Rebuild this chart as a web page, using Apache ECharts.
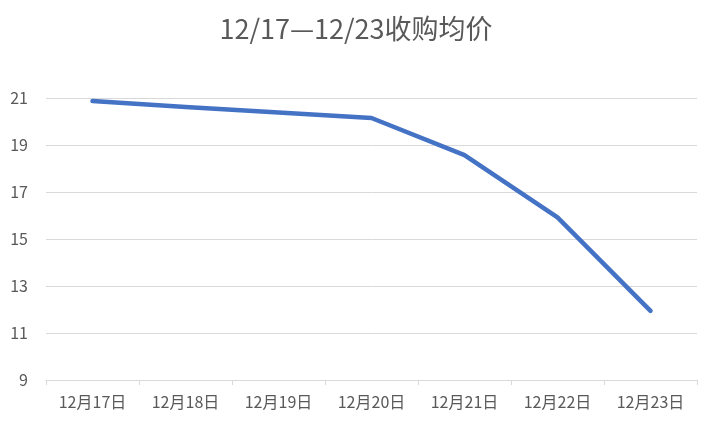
<!DOCTYPE html>
<html><head><meta charset="utf-8">
<script src="https://cdn.jsdelivr.net/npm/echarts@6/dist/echarts.min.js"></script>
<style>html,body{margin:0;padding:0;background:#fff}#c{width:712px;height:424px}</style>
</head><body><div id="c"></div>
<script>
const titleText = '12/17\u201412/23收购均价';
const categories = ['12月17日','12月18日','12月19日','12月20日','12月21日','12月22日','12月23日'];
const prices = [20.87, 20.62, 20.38, 20.15, 18.57, 15.92, 11.94];
const yMin = 9, yMax = 21, yStep = 2;

const chart = echarts.init(document.getElementById('c'), null, {renderer:'canvas'});
chart.setOption({
  animation: false,
  backgroundColor: '#fff',
  title: {
    text: titleText, left: 'center', top: 10,
    textStyle: {color:'#595959', fontSize: 27, fontWeight: 'normal', fontFamily: 'Noto Sans CJK SC'}
  },
  grid: {left: 46, right: 15, top: 98, bottom: 44, containLabel: false},
  xAxis: {
    type: 'category', data: categories, boundaryGap: true,
    axisLine: {lineStyle: {color: '#d9d9d9', width: 1}},
    axisTick: {show: true, length: 5, lineStyle: {color: '#d9d9d9'}},
    axisLabel: {color: '#595959', fontSize: 16, margin: 14, fontFamily: 'Noto Sans CJK SC'}
  },
  yAxis: {
    type: 'value', min: yMin, max: yMax, interval: yStep,
    axisLine: {show: false}, axisTick: {show: false},
    splitLine: {lineStyle: {color: '#d9d9d9', width: 1}},
    axisLabel: {color: '#595959', fontSize: 16, margin: 18, fontFamily: 'Noto Sans CJK SC'}
  },
  series: [{
    type: 'line', data: prices, symbol: 'none',
    lineStyle: {color: '#4472c4', width: 4.5, cap: 'round', join: 'round'}
  }]
});
</script></body></html>
